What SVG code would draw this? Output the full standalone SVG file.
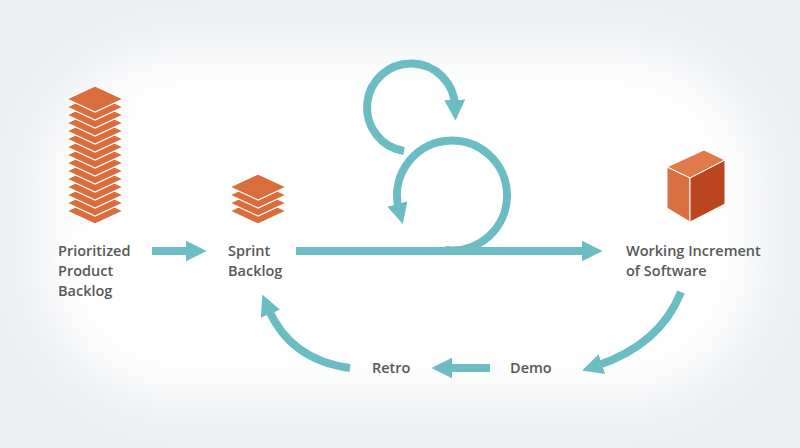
<svg xmlns="http://www.w3.org/2000/svg" width="800" height="448" viewBox="0 0 800 448">
<style>
.t{font-family:"Open Sans","Liberation Sans",sans-serif;font-size:14.5px;font-weight:600;fill:#585858}
.c{fill:none;stroke:#6cbcc3;stroke-width:8}
.pg{fill:#d96d3c;stroke:#fff;stroke-width:1.2}
</style>
<defs>
<filter id="bl" x="-20%" y="-20%" width="140%" height="140%"><feGaussianBlur stdDeviation="28"/></filter>
<marker id="ah" viewBox="0 0 10 10" refX="3" refY="5" markerWidth="2.6" markerHeight="3" orient="auto" markerUnits="strokeWidth"><path d="M0,0 L10,5 L0,10 z" fill="#6cbcc3"/></marker>
<path id="d" d="M0,-13 L28,0 L0,13 L-28,0 z"/>
</defs>
<rect width="800" height="448" fill="#eceef1"/>
<rect x="40" y="50" width="720" height="350" rx="140" fill="#fff" filter="url(#bl)"/>
<g id="product-backlog">
<g class="pg">
<use href="#d" x="95" y="211"/><use href="#d" x="95" y="203"/><use href="#d" x="95" y="195"/><use href="#d" x="95" y="187"/><use href="#d" x="95" y="179"/><use href="#d" x="95" y="171"/><use href="#d" x="95" y="163"/><use href="#d" x="95" y="155"/><use href="#d" x="95" y="147"/><use href="#d" x="95" y="139"/><use href="#d" x="95" y="131"/><use href="#d" x="95" y="123"/><use href="#d" x="95" y="115"/><use href="#d" x="95" y="107"/><use href="#d" x="95" y="99"/>
</g>
<text class="t" x="58" y="256">Prioritized</text><text class="t" x="58" y="276">Product</text><text class="t" x="58" y="296">Backlog</text>
</g>
<g id="sprint-backlog">
<g class="pg">
<use href="#d" x="258" y="211"/><use href="#d" x="258" y="203"/><use href="#d" x="258" y="195"/><use href="#d" x="258" y="187"/>
</g>
<text class="t" x="228" y="256">Sprint</text><text class="t" x="228" y="276">Backlog</text>
</g>
<g id="increment">
<path d="M667,167 L704,150 L725,160 L690,178 z" fill="#e07a48" stroke="#fff" stroke-width="1"/>
<path d="M667,167 L690,178 L690,222 L667,208 z" fill="#d9703f" stroke="#fff" stroke-width="1"/>
<path d="M690,178 L725,160 L725,204 L690,222 z" fill="#b9461f" stroke="#fff" stroke-width="1"/>
<text class="t" x="626" y="256">Working Increment</text><text class="t" x="626" y="276">of Software</text>
</g>
<g id="demo"><text class="t" x="510" y="373">Demo</text></g>
<g id="retro"><text class="t" x="372" y="373">Retro</text></g>
<g id="connectors">
<path class="c" d="M152,251 H192" marker-end="url(#ah)"/>
<path class="c" d="M296,251 H588" marker-end="url(#ah)"/>
<path class="c" d="M445,250 A55,55 0 1 0 399,210" marker-end="url(#ah)"/>
<path class="c" d="M404,151 A44,44 0 1 1 455,106" marker-end="url(#ah)"/>
<path class="c" d="M681,292 Q660,345 596,366" marker-end="url(#ah)"/>
<path class="c" d="M490,368 H446" marker-end="url(#ah)"/>
<path class="c" d="M350,368 Q290,360 268,308" marker-end="url(#ah)"/>
</g>
</svg>
